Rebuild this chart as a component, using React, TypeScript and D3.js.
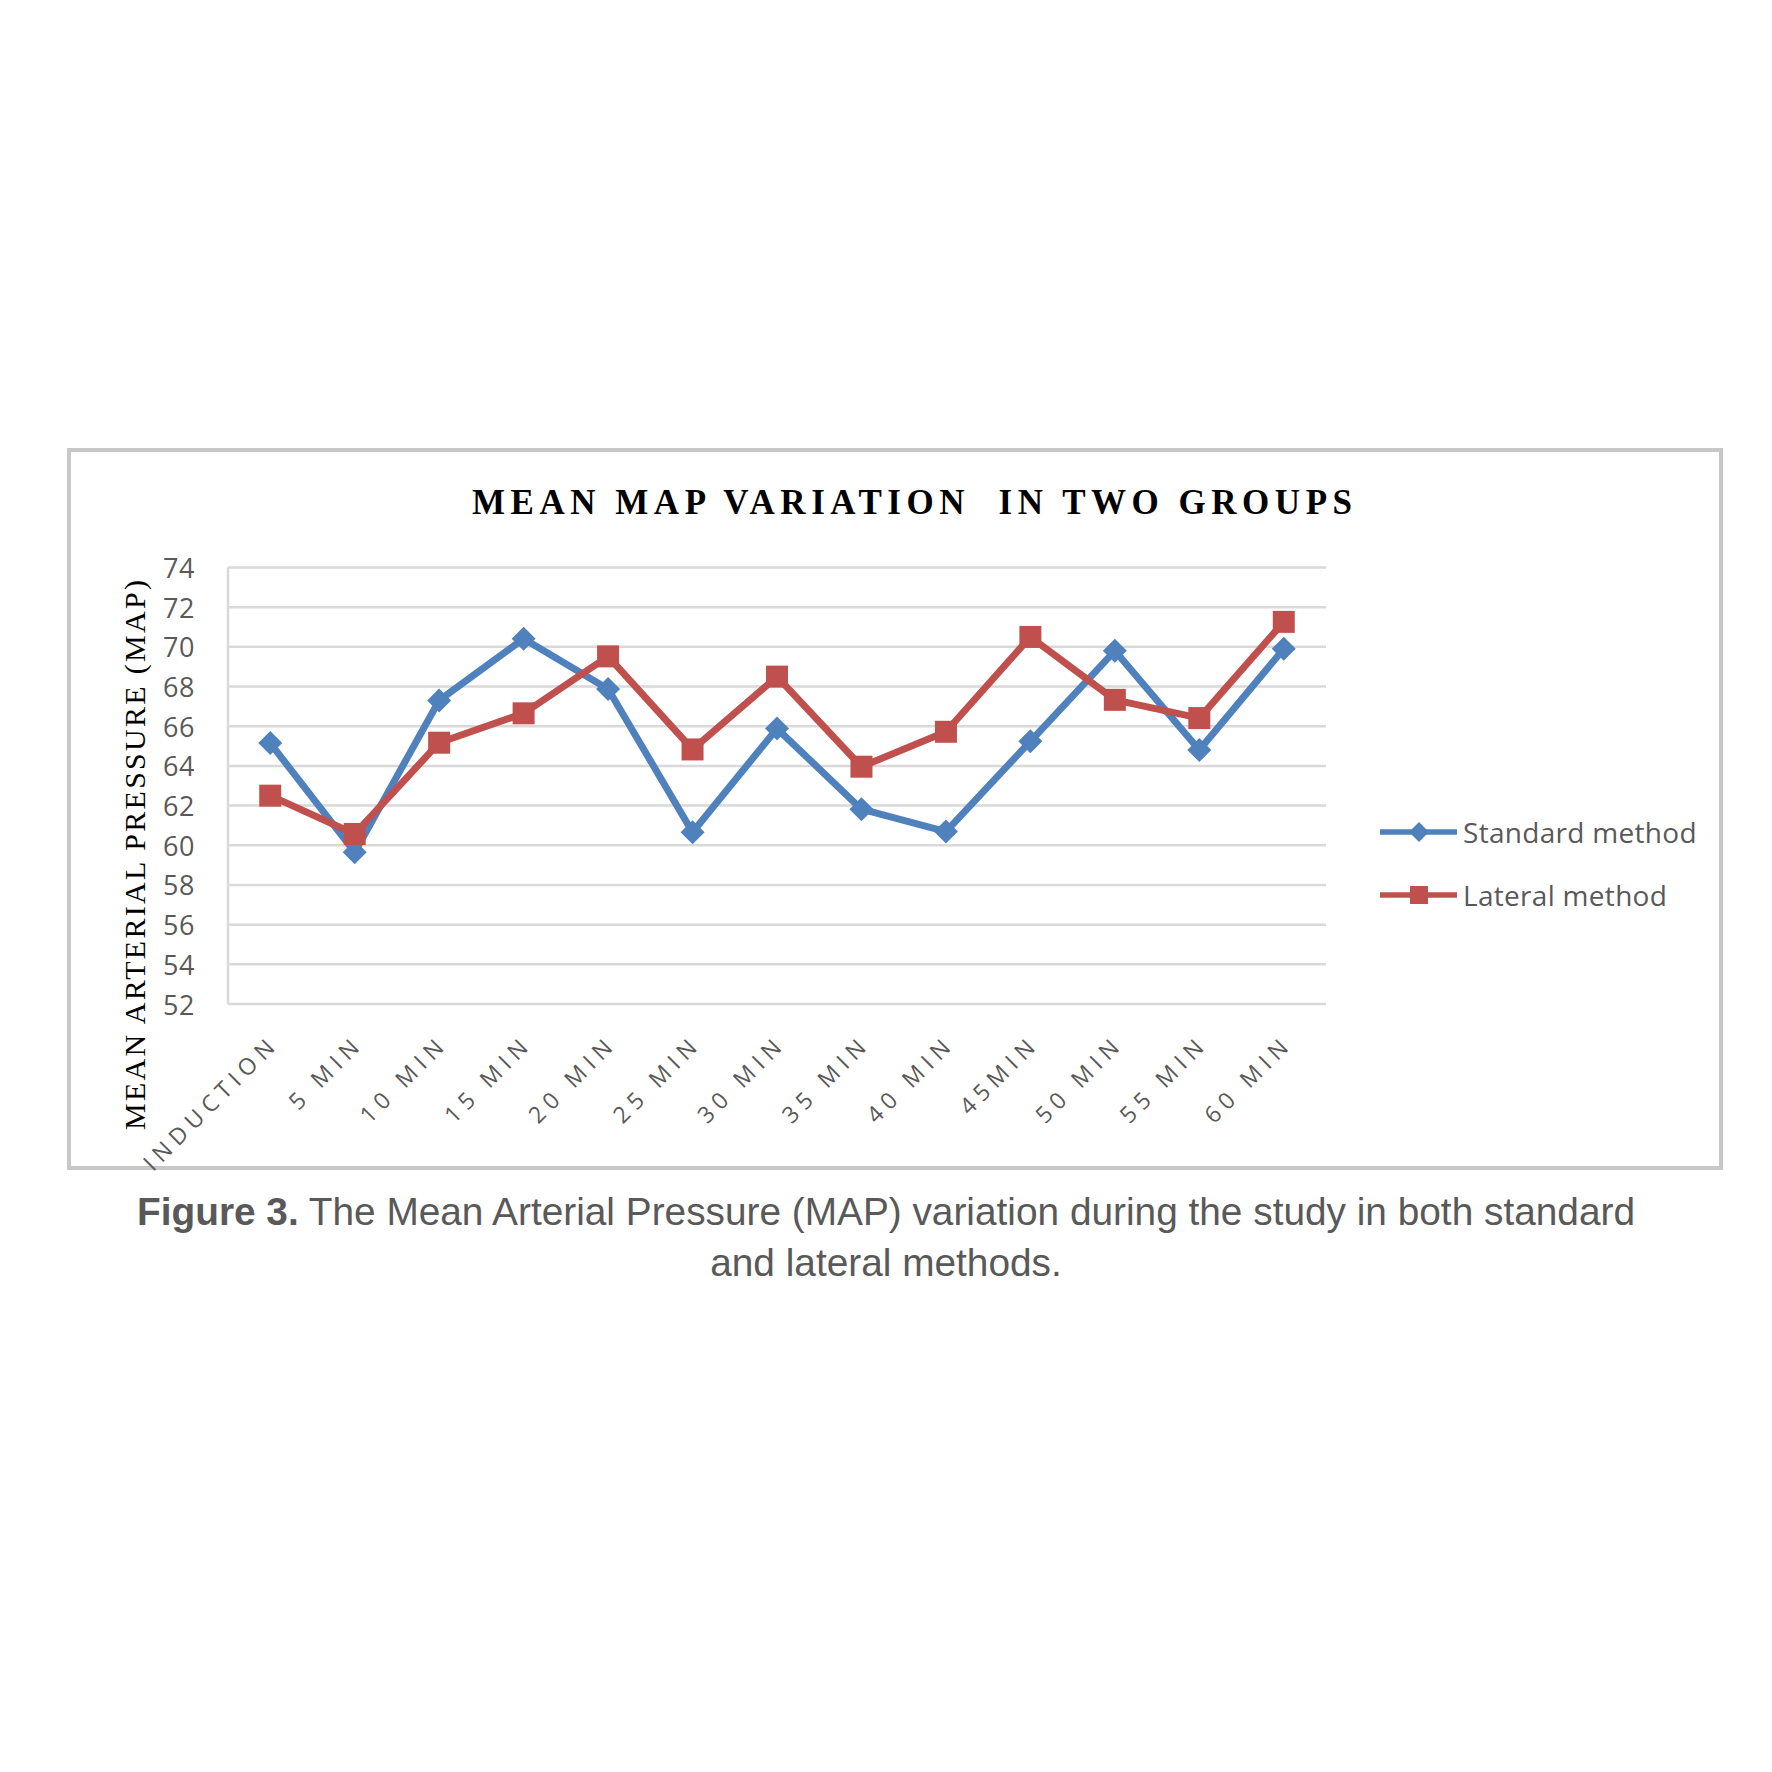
import React from "react";
import * as d3 from "d3";

const categories = [
  "INDUCTION", "5 MIN", "10 MIN", "15 MIN", "20 MIN", "25 MIN", "30 MIN",
  "35 MIN", "40 MIN", "45MIN", "50 MIN", "55 MIN", "60 MIN",
];
const standardMethod = [65.15, 59.65, 67.3, 70.41, 67.88, 60.66, 65.88, 61.82, 60.69, 65.24, 69.8, 64.8, 69.9];
const lateralMethod = [62.5, 60.57, 65.17, 66.65, 69.52, 64.83, 68.5, 63.96, 65.72, 70.5, 67.33, 66.41, 71.26];
const yTicks = [52, 54, 56, 58, 60, 62, 64, 66, 68, 70, 72, 74];
const seriesNames = ["Standard method", "Lateral method"];

const BLUE = "#4F81BD";
const RED = "#C0504D";
const GRID = "#D9D9D9";
const LABEL = "#595959";
const SANS = "'Open Sans', 'Noto Sans', sans-serif";
const SERIF = "'Liberation Serif', 'Times New Roman', serif";

const diamond = (x: number, y: number, r: number) =>
  `M${x},${y - r}L${x + r},${y}L${x},${y + r}L${x - r},${y}Z`;

export default function App() {
  const left = 228, right = 1326, top = 567.5, bottom = 1004;
  const x = d3.scalePoint<string>().domain(categories).range([left, right]).padding(0.5);
  const y = d3.scaleLinear().domain([52, 74]).range([bottom, top]);
  const line = d3
    .line<number>()
    .x((_, i) => x(categories[i]) as number)
    .y((d) => y(d));

  return (
    <svg
      width={1772}
      height={1772}
      viewBox="0 0 1772 1772"
      style={{ position: "absolute", left: 0, top: 0, background: "#fff" }}
    >
      <rect x={0} y={0} width={1772} height={1772} fill="#fff" />
      {/* chart border */}
      <rect x={69} y={450} width={1652} height={718} fill="#fff" stroke="#C8C8C8" strokeWidth={4} />

      {/* title */}
      <text
        x={472}
        y={514}
        fontFamily={SERIF}
        fontWeight="bold"
        fontSize={35}
        fill="#000"
        textLength={880}
        lengthAdjust="spacing"
        style={{ whiteSpace: "pre" }}
      >
        {"MEAN MAP VARIATION  IN TWO GROUPS"}
      </text>

      {/* y axis title */}
      <text
        transform={`translate(145,855) rotate(-90)`}
        textAnchor="middle"
        fontFamily={SERIF}
        fontSize={30}
        fill="#000"
        textLength={550}
        lengthAdjust="spacing"
      >
        MEAN ARTERIAL PRESSURE (MAP)
      </text>

      {/* gridlines */}
      {yTicks.map((t) => (
        <line key={t} x1={left} x2={right} y1={y(t)} y2={y(t)} stroke={GRID} strokeWidth={2.5} />
      ))}
      <line x1={left} x2={left} y1={top} y2={bottom} stroke={GRID} strokeWidth={2.5} />

      {/* y tick labels */}
      {yTicks.map((t) => (
        <text
          key={t}
          x={195}
          y={y(t)}
          textAnchor="end"
          dominantBaseline="central"
          fontFamily={SANS}
          fontSize={27}
          letterSpacing={0.5}
          fill={LABEL}
        >
          {t}
        </text>
      ))}

      {/* x tick labels */}
      {categories.map((c) => (
        <text
          key={c}
          transform={`translate(${(x(c) as number) + 10},1045) rotate(-45)`}
          textAnchor="end"
          fontFamily={SANS}
          fontSize={23}
          letterSpacing={6}
          fill={LABEL}
          style={{ whiteSpace: "pre" }}
        >
          {c}
        </text>
      ))}

      {/* standard series */}
      <path d={line(standardMethod) || ""} fill="none" stroke={BLUE} strokeWidth={7} strokeLinejoin="round" />
      {standardMethod.map((v, i) => (
        <path key={i} d={diamond(x(categories[i]) as number, y(v), 12)} fill={BLUE} />
      ))}

      {/* lateral series */}
      <path d={line(lateralMethod) || ""} fill="none" stroke={RED} strokeWidth={7} strokeLinejoin="round" />
      {lateralMethod.map((v, i) => (
        <rect
          key={i}
          x={(x(categories[i]) as number) - 11}
          y={y(v) - 11}
          width={22}
          height={22}
          fill={RED}
        />
      ))}

      {/* legend */}
      <line x1={1380} x2={1457} y1={832} y2={832} stroke={BLUE} strokeWidth={5.5} />
      <path d={diamond(1419, 832, 10)} fill={BLUE} />
      <text x={1463} y={832} dominantBaseline="central" fontFamily={SANS} fontSize={28} letterSpacing={0.3} fill={LABEL}>
        {seriesNames[0]}
      </text>
      <line x1={1380} x2={1457} y1={895} y2={895} stroke={RED} strokeWidth={5.5} />
      <rect x={1410} y={886} width={18} height={18} fill={RED} />
      <text x={1463} y={895} dominantBaseline="central" fontFamily={SANS} fontSize={28} letterSpacing={0.3} fill={LABEL}>
        {seriesNames[1]}
      </text>

      {/* caption */}
      <text x={886} y={1225} textAnchor="middle" fontFamily="'Liberation Sans', Arial, sans-serif" fontSize={38.8} fill={LABEL}>
        <tspan fontWeight="bold">Figure 3.</tspan>
        <tspan> The Mean Arterial Pressure (MAP) variation during the study in both standard</tspan>
      </text>
      <text x={886} y={1276} textAnchor="middle" fontFamily="'Liberation Sans', Arial, sans-serif" fontSize={38.8} fill={LABEL}>
        and lateral methods.
      </text>
    </svg>
  );
}
